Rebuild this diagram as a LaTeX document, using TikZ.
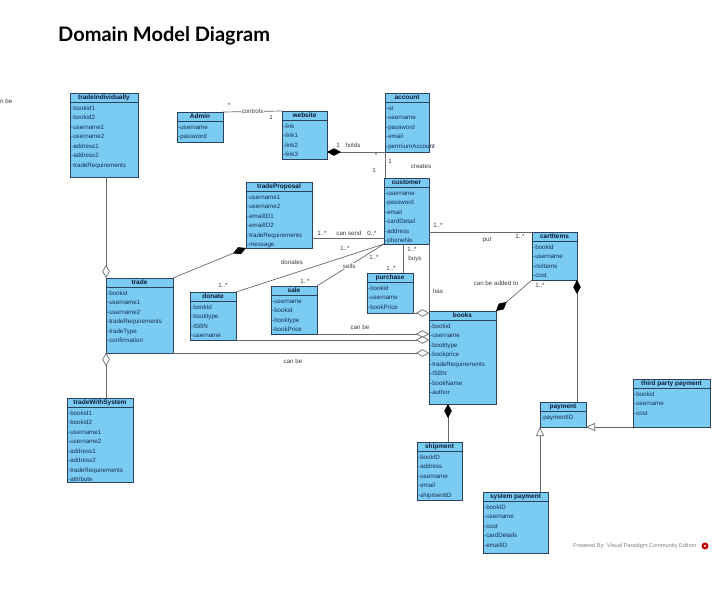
\documentclass[tikz,border=0pt]{standalone}
\usepackage{fontspec}
\setmainfont{Liberation Sans}
\newfontfamily\titlefont{Lato}
\usetikzlibrary{arrows.meta}
\definecolor{boxfill}{RGB}{122,204,242}
\definecolor{boxline}{RGB}{45,65,90}
\definecolor{titlecol}{RGB}{15,25,55}
\definecolor{attrcol}{RGB}{25,45,85}
\definecolor{linecol}{RGB}{105,105,105}
\definecolor{lblcol}{RGB}{60,60,60}
\tikzset{
 clsbox/.style={draw=boxline, fill=boxfill, line width=0.8pt, inner sep=0pt, outer sep=0pt, rectangle},
 clsline/.style={draw=boxline, line width=0.6pt},
 clstitle/.style={font=\bfseries\fontsize{6.5}{7}\selectfont, text=titlecol, inner sep=0pt},
 clsattr/.style={font=\fontsize{6.2}{7}\selectfont, text=attrcol, inner sep=0pt, anchor=base west},
 conn/.style={draw=linecol, line width=0.7pt},
 agg/.style={conn, -{Diamond[open, length=13pt, width=7.5pt, fill=white]}},
 comp/.style={conn, -{Diamond[length=14pt, width=7.5pt, color=black]}},
 gen/.style={conn, -{Triangle[open, length=9pt, width=8pt, fill=white]}},
 lbl/.style={font=\fontsize{6.2}{7}\selectfont, text=lblcol, inner sep=0.6pt},
}
\newcommand{\umlclass}[7]{%
  \node[clsbox, minimum width=#4pt, minimum height=#5pt, anchor=north west] (#1) at (#2,#3) {};
  \draw[clsline] ([yshift=-9pt]#1.north west) -- ([yshift=-9pt]#1.north east);
  \node[clstitle] (#1-t) at ([yshift=-4.6pt]#1.north) {#6};
  \foreach \cattr [count=\ci] in {#7} {
    \node[clsattr] (#1-\ci) at ([xshift=1pt,yshift={-7.5pt-9.55pt*\ci}]#1.north west) {-\cattr};
  }%
}
\begin{document}
\begin{tikzpicture}[x=1pt, y=-1pt]
\fill[white] (0,0) rectangle (725,611);
\useasboundingbox (0,0) rectangle (725,611);

\node[font=\titlefont\bfseries\fontsize{20}{22}\selectfont, anchor=base west, inner sep=0] (title) at (58,41) {Domain Model Diagram};
\node[lbl, anchor=west, inner sep=0] (cut) at (0,101) {n be};

\umlclass{tind}{70}{93}{68}{84}{tradeIndividually}{bookid1,bookid2,username1,username2,address1,address2,tradeRequirements}
\umlclass{admin}{177}{112}{46}{30}{Admin}{username,password}
\umlclass{website}{282}{111}{45}{48}{website}{link,link1,link2,link3}
\umlclass{account}{385}{93}{44}{59}{account}{id,username,password,email,permiumAccount}
\umlclass{customer}{384}{178}{45}{66}{customer}{username,password,email,cardDetail,address,phoneNo}
\umlclass{tprop}{246}{182}{66}{66}{tradeProposal}{username1,username2,emailID1,emailID2,tradeRequirements,message}
\umlclass{trade}{106}{278}{67}{75}{trade}{bookid,username1,username2,tradeRequirements,tradeType,confirmation}
\umlclass{tsys}{67}{398}{66}{84}{tradeWithSystem}{bookid1,bookid2,username1,username2,address1,address2,tradeRequirements,attribute}
\umlclass{donate}{190}{292}{46}{48}{donate}{bookId,booktype,ISBN,username}
\umlclass{sale}{271}{286}{46}{48}{sale}{username,bookid,booktype,bookPrice}
\umlclass{purchase}{367}{273}{46}{40}{purchase}{bookid,username,bookPrice}
\umlclass{books}{429}{311}{67}{93}{books}{bookid,username,booktype,bookprice,tradeRequirements,ISBN,bookName,author}
\umlclass{cart}{532}{232}{45}{48}{cartItems}{bookid,username,noItems,cost}
\umlclass{payment}{540}{402}{46}{25}{payment}{paymentID}
\umlclass{tpp}{633}{379}{77}{48}{third party payment}{bookid,username,cost}
\umlclass{sysp}{483}{492}{65}{61}{system payment}{bookID,username,cost,cardDetails,emailID}
\umlclass{ship}{417}{442}{45}{58}{shipment}{bookID,address,username,email,shipmentID}

% controls
\draw[conn] (admin.north east) -- node[lbl, fill=white, inner sep=1pt] (lcontrols) {controls} (website.north west);
\node[lbl] (m1) at (229,105) {*};
\node[lbl] (m2) at (271,117) {1};

% holds
\draw[comp] (account.south west) -- (account.south west -| website.east);
\node[lbl] (m3) at (338,145) {1};
\node[lbl] (lholds) at (353,145) {holds};
\node[lbl] (m4) at (376,155) {*};

% creates
\draw[conn] (account.south west) -- (account.south west |- customer.north);
\node[lbl] (m5) at (390,161) {1};
\node[lbl] (m6) at (374,170) {1};
\node[lbl] (lcreates) at (421,167) {creates};

% can send
\coordinate (cs) at ([yshift=10pt]tprop.south east);
\draw[conn] (cs) -- (cs -| customer.west);
\node[lbl] (m7) at (322,233) {1..*};
\node[lbl] (lcansend) at (349,233) {can send};
\node[lbl] (m8) at (372,233) {0..*};

% trade proposal - trade
\draw[comp] (trade.north east) -- (tprop.south west);

% trade aggregations
\draw[agg] (tind.south -| trade.north west) -- (trade.north west);
\draw[agg] (trade.south west |- tsys.north) -- (trade.south west);

% donates
\draw[conn] (customer.south west) -- (donate.north east);
\node[lbl] (m9) at (345,248) {1..*};
\node[lbl] (ldonates) at (292,262) {donates};
\node[lbl] (m10) at (223,285) {1..*};

% sells
\draw[conn] (customer.south west) -- node[lbl, fill=white, pos=0.52, inner sep=1pt] (lsells) {sells} (sale.north east);
\node[lbl] (m11) at (374,257) {1..*};
\node[lbl] (m12) at (305,281) {1..*};

% buys
\coordinate (cb) at ([xshift=-3.5pt]customer.south);
\draw[conn] (cb) -- (cb |- purchase.north);
\node[lbl] (m13) at (412,249) {1..*};
\node[lbl] (lbuys) at (415,259) {buys};
\node[lbl] (m14) at (391,268) {1..*};

% has
\draw[conn] (customer.south east) -- (books.north west);
\node[lbl] (lhas) at (438,291) {has};

% to books aggregations
\draw[agg] (purchase.south east) -- (purchase.south east -| books.west);
\draw[agg] (sale.south east) -- (sale.south east -| books.west);
\draw[agg] (donate.south east) -- (donate.south east -| books.west);
\draw[agg] (trade.south east) -- (trade.south east -| books.west);
\node[lbl] (lcanbe1) at (360,327) {can be};
\node[lbl] (lcanbe2) at (293,361) {can be};

% put
\draw[conn] (cart.north west -| customer.east) -- (cart.north west);
\node[lbl] (m15) at (438,225) {1..*};
\node[lbl] (lput) at (487,240) {put};
\node[lbl] (m16) at (520,236) {1..*};

% can be added to
\draw[comp] (cart.south west) -- (books.north east);
\node[lbl] (laddto) at (496,283) {can be added to};
\node[lbl] (m17) at (540,285) {1..*};

% cart - payment
\draw[comp] (cart.south east |- payment.north) -- (cart.south east);

% books - shipment
\coordinate (bsx) at ([xshift=-14.5pt]books.south);
\draw[comp] (bsx |- ship.north) -- (bsx);

% generalizations
\draw[gen] (tpp.south west) -- (payment.south east);
\draw[gen] (payment.south west |- sysp.north) -- (payment.south west);

% footer
\node[font=\fontsize{5.6}{6}\selectfont, text=gray, anchor=west, inner sep=0] (pow) at (573,546) {Powered By: Visual Paradigm Community Edition};
\fill[red!75!black] (705,546) circle (3.5);
\fill[white] (705,546) circle (1.2);
\end{tikzpicture}
\end{document}
